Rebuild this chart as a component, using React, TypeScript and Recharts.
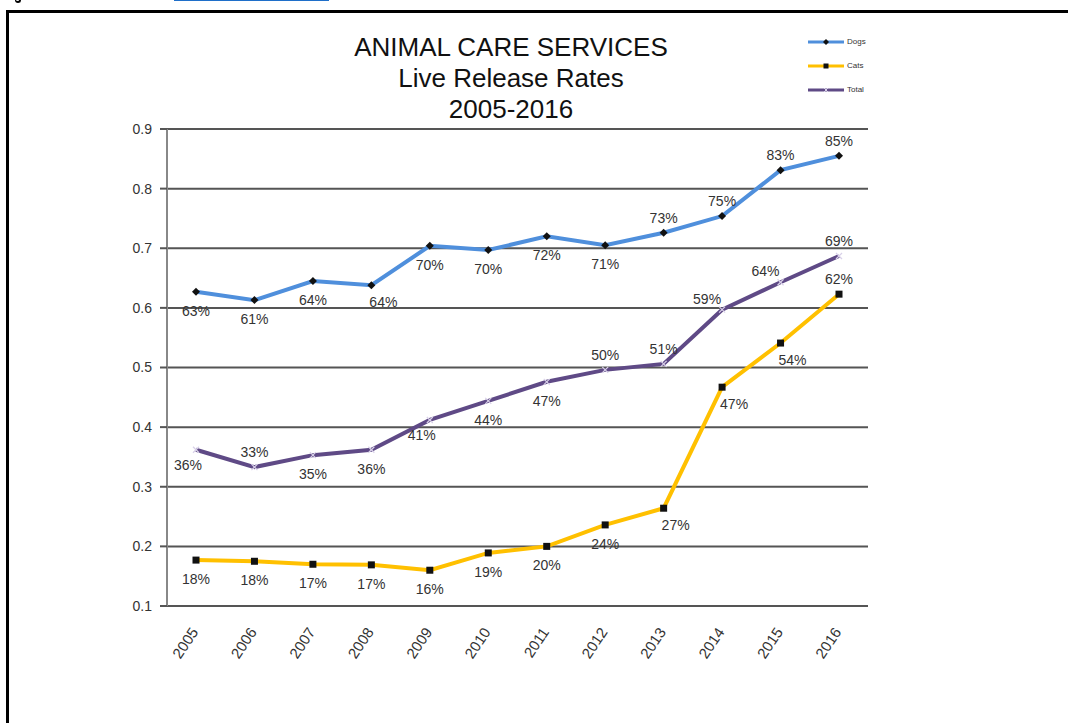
import React from 'react';
import { LineChart, Line, XAxis, YAxis, CartesianGrid, Legend } from 'recharts';

const years = ['2005', '2006', '2007', '2008', '2009', '2010', '2011', '2012', '2013', '2014', '2015', '2016'];
const dogs = [0.627, 0.613, 0.645, 0.638, 0.704, 0.697, 0.72, 0.705, 0.726, 0.754, 0.831, 0.855];
const cats = [0.177, 0.175, 0.17, 0.169, 0.16, 0.189, 0.2, 0.236, 0.264, 0.467, 0.541, 0.623];
const total = [0.362, 0.333, 0.353, 0.362, 0.412, 0.444, 0.476, 0.496, 0.506, 0.597, 0.643, 0.687];

const dogsLabels = ['63%', '61%', '64%', '64%', '70%', '70%', '72%', '71%', '73%', '75%', '83%', '85%'];
const catsLabels = ['18%', '18%', '17%', '17%', '16%', '19%', '20%', '24%', '27%', '47%', '54%', '62%'];
const totalLabels = ['36%', '33%', '35%', '36%', '41%', '44%', '47%', '50%', '51%', '59%', '64%', '69%'];

// where each data label sits relative to its point
const dogsPlace = ['b', 'b', 'b', 'br', 'b', 'b', 'b', 'b', 'a', 'a', 'a', 'a'];
const catsPlace = ['b', 'b', 'b', 'b', 'b', 'b', 'b', 'b', 'br', 'br', 'br', 'a'];
const totalPlace = ['bl', 'a', 'b', 'b', 'bl', 'b', 'b', 'a', 'a', 'al', 'al', 'a'];

const yTicks = [0.1, 0.2, 0.3, 0.4, 0.5, 0.6, 0.7, 0.8, 0.9];

const data = years.map((year, i) => ({
    year,
    dogs: dogs[i],
    cats: cats[i],
    total: total[i]
}));

const FONT = '"Liberation Sans", Arial, sans-serif';
const DOGS_COLOR = '#4f8fdc';
const CATS_COLOR = '#ffc000';
const TOTAL_COLOR = '#5f4a86';

const offsets: Record<string, [number, number]> = {
    b: [0, 19],
    a: [0, -15],
    bl: [-8, 15],
    br: [12, 17],
    al: [-15, -11]
};

const makeLabel = (labels: string[], places: string[]) => (props: any) => {
    const { x, y, index } = props;
    const [dx, dy] = offsets[places[index]] || [0, 18];
    return (
        <text
            x={x + dx}
            y={y + dy}
            textAnchor="middle"
            dominantBaseline="central"
            fontSize={14}
            fontFamily={FONT}
            fill="#333"
        >
            {labels[index]}
        </text>
    );
};

const DiamondDot = (props: any) => {
    const { cx, cy } = props;
    if (cx == null || cy == null) return null;
    return <path d={`M${cx},${cy - 4}L${cx + 4},${cy}L${cx},${cy + 4}L${cx - 4},${cy}Z`} fill="#111" />;
};

const SquareDot = (props: any) => {
    const { cx, cy } = props;
    if (cx == null || cy == null) return null;
    return <rect x={cx - 3.5} y={cy - 3.5} width={7} height={7} fill="#111" />;
};

const CrossDot = (props: any) => {
    const { cx, cy } = props;
    if (cx == null || cy == null) return null;
    return (
        <g stroke="#d8d0e8" strokeWidth={1.2}>
            <line x1={cx - 3} y1={cy - 3} x2={cx + 3} y2={cy + 3} />
            <line x1={cx - 3} y1={cy + 3} x2={cx + 3} y2={cy - 3} />
        </g>
    );
};

const YearTick = (props: any) => {
    const { x, y, payload } = props;
    return (
        <g transform={`translate(${x + 3},${y + 26})`}>
            <text
                transform="rotate(-56)"
                textAnchor="end"
                fontSize={15}
                fontFamily={FONT}
                fill="#333"
            >
                {payload.value}
            </text>
        </g>
    );
};

const legendItems = [
    { name: 'Dogs', color: DOGS_COLOR, marker: 'diamond' },
    { name: 'Cats', color: CATS_COLOR, marker: 'square' },
    { name: 'Total', color: TOTAL_COLOR, marker: 'cross' }
];

const renderLegend = () => (
    <div style={{ display: 'flex', flexDirection: 'column', gap: '11px' }}>
        {legendItems.map((item) => (
            <div key={item.name} style={{ display: 'flex', alignItems: 'center', height: '13px' }}>
                <svg width={40} height={10}>
                    <line x1={2} y1={5} x2={38} y2={5} stroke={item.color} strokeWidth={3} />
                    {item.marker === 'diamond' && <path d="M20,2L23,5L20,8L17,5Z" fill="#111" />}
                    {item.marker === 'square' && <rect x={17.5} y={2.5} width={5} height={5} fill="#111" />}
                    {item.marker === 'cross' && (
                        <g stroke="#d8d0e8" strokeWidth={1}>
                            <line x1={18} y1={3} x2={22} y2={7} />
                            <line x1={18} y1={7} x2={22} y2={3} />
                        </g>
                    )}
                </svg>
                <span style={{ fontSize: '8px', fontFamily: FONT, color: '#333', marginLeft: '1px' }}>
                    {item.name}
                </span>
            </div>
        ))}
    </div>
);

export default function App() {
    return (
        <div style={{
            position: 'absolute',
            left: 0,
            top: 0,
            width: '1068px',
            height: '723px',
            overflow: 'hidden',
            background: '#fff'
        }}>
            {/* bits of the page above the figure, cut off */}
            <div style={{
                position: 'absolute',
                left: '15px',
                top: '0px',
                width: '6px',
                height: '3px',
                borderBottom: '2px solid #000',
                borderLeft: '1px solid #000',
                borderRight: '2px solid #000',
                borderBottomLeftRadius: '3px',
                borderBottomRightRadius: '3px',
                boxSizing: 'border-box'
            }} />
            <div style={{
                position: 'absolute',
                left: '174px',
                top: '-10px',
                width: '155px',
                height: '11px',
                border: '2px solid #1f6fc9',
                borderTop: 'none',
                boxSizing: 'border-box'
            }}>
                <div style={{ position: 'absolute', left: '71px', top: 0, bottom: 0, borderLeft: '1px solid #1f6fc9' }} />
                <div style={{ position: 'absolute', left: '119px', top: 0, bottom: 0, borderLeft: '1px solid #1f6fc9' }} />
            </div>

            {/* figure frame */}
            <div style={{
                position: 'absolute',
                left: '6px',
                top: '10px',
                width: '1200px',
                height: '900px',
                borderLeft: '3px solid #000',
                borderTop: '3px solid #000'
            }} />

            {/* title */}
            <div style={{
                position: 'absolute',
                left: '311px',
                top: '32px',
                width: '400px',
                textAlign: 'center',
                fontFamily: FONT,
                fontSize: '26px',
                lineHeight: '31px',
                color: '#111'
            }}>
                <div>ANIMAL CARE SERVICES</div>
                <div>Live Release Rates</div>
                <div>2005-2016</div>
            </div>

            <div style={{ position: 'absolute', left: 0, top: 0 }}>
                <LineChart
                    width={1068}
                    height={723}
                    data={data}
                    margin={{ top: 129, right: 200, left: 117, bottom: 37 }}
                >
                    <CartesianGrid vertical={false} stroke="#555" strokeWidth={2} />
                    <XAxis
                        dataKey="year"
                        padding={{ left: 29, right: 29 }}
                        axisLine={{ stroke: '#555', strokeWidth: 2 }}
                        tickLine={false}
                        tickSize={0}
                        tickMargin={0}
                        tick={<YearTick />}
                        interval={0}
                        height={80}
                    />
                    <YAxis
                        domain={[0.1, 0.9]}
                        ticks={yTicks}
                        tickFormatter={(v: number) => v.toFixed(1)}
                        axisLine={{ stroke: '#888', strokeWidth: 2 }}
                        tickLine={{ stroke: '#555', strokeWidth: 2 }}
                        tickSize={7}
                        tickMargin={8}
                        width={50}
                        tick={{ fontSize: 14, fontFamily: FONT, fill: '#333' }}
                    />
                    <Legend
                        layout="horizontal"
                        verticalAlign="middle"
                        align="center"
                        content={renderLegend}
                        wrapperStyle={{ position: 'absolute', top: '35px', left: '806px', width: '90px', height: '80px' }}
                    />
                    <Line
                        type="linear"
                        dataKey="dogs"
                        name="Dogs"
                        stroke={DOGS_COLOR}
                        strokeWidth={4}
                        dot={<DiamondDot />}
                        label={makeLabel(dogsLabels, dogsPlace)}
                        isAnimationActive={false}
                    />
                    <Line
                        type="linear"
                        dataKey="cats"
                        name="Cats"
                        stroke={CATS_COLOR}
                        strokeWidth={4}
                        dot={<SquareDot />}
                        label={makeLabel(catsLabels, catsPlace)}
                        isAnimationActive={false}
                    />
                    <Line
                        type="linear"
                        dataKey="total"
                        name="Total"
                        stroke={TOTAL_COLOR}
                        strokeWidth={4}
                        dot={<CrossDot />}
                        label={makeLabel(totalLabels, totalPlace)}
                        isAnimationActive={false}
                    />
                </LineChart>
            </div>
        </div>
    );
}
